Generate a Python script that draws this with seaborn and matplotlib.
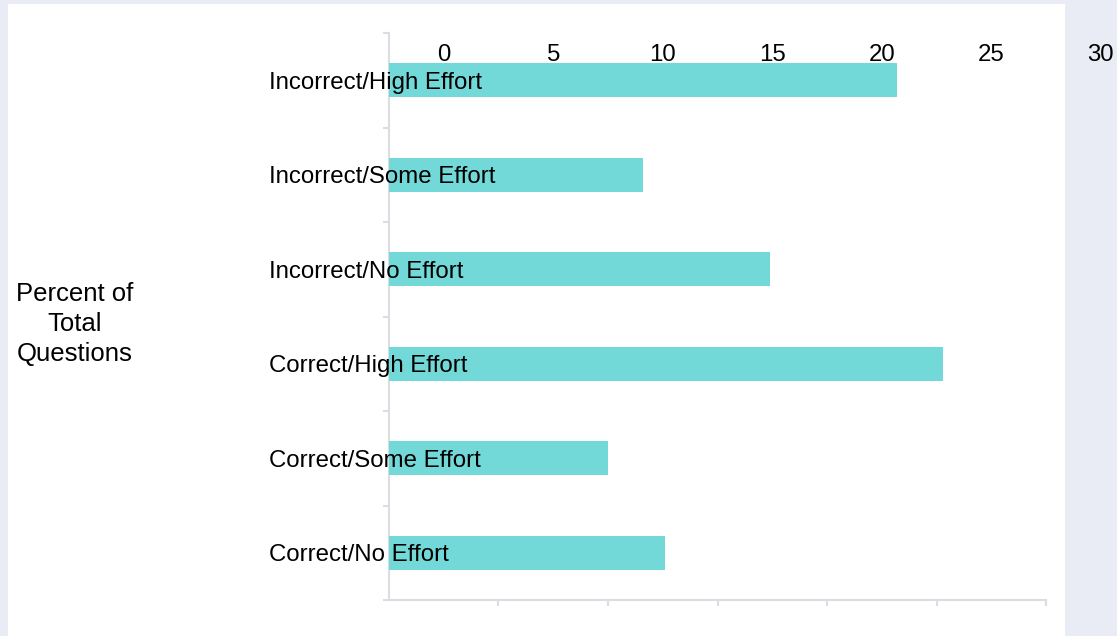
import matplotlib
matplotlib.use("Agg")
import matplotlib.pyplot as plt
import matplotlib.transforms as mtransforms
from matplotlib.patches import Rectangle
import seaborn as sns
import pandas as pd

# Share of questions by answer outcome and effort level
categories = [
    "Incorrect/High Effort",
    "Incorrect/Some Effort",
    "Incorrect/No Effort",
    "Correct/High Effort",
    "Correct/Some Effort",
    "Correct/No Effort",
]
percent = [23.2, 11.6, 17.4, 25.3, 10.0, 12.6]
x_ticks = [0, 5, 10, 15, 20, 25, 30]
axis_title = "Percent of\nTotal\nQuestions"

df = pd.DataFrame({"category": categories, "percent": percent})

sns.set_theme(style="white")
plt.rcParams["font.family"] = ["Liberation Sans", "DejaVu Sans"]

W, H, DPI = 1117, 636, 100
fig = plt.figure(figsize=(W / DPI, H / DPI), dpi=DPI, facecolor="#e9ecf4")

# white card behind the chart
fig.patches.append(Rectangle((8 / W, 0), (1065 - 8) / W, (H - 4) / H,
                             transform=fig.transFigure, facecolor="white",
                             edgecolor="none", zorder=-10))

ax = fig.add_axes([389 / W, 36 / H, (1046 - 389) / W, (600 - 33) / H])
ax.set_facecolor("none")

sns.barplot(data=df, x="percent", y="category", orient="h", color="#73d9d8",
            saturation=1, width=0.36, linewidth=0, ax=ax)

ax.set_xlim(0, 30)
ax.set_ylim(len(categories) - 0.5, -0.5)
ax.set_xlabel("")
ax.set_ylabel("")

axis_grey = "#dcdde2"
for side in ("top", "right"):
    ax.spines[side].set_visible(False)
for side in ("left", "bottom"):
    ax.spines[side].set_color(axis_grey)
    ax.spines[side].set_linewidth(1.5)
    ax.spines[side].set_zorder(0.5)

# bottom ticks without labels
ax.set_xticks(x_ticks[1:])
ax.tick_params(axis="x", bottom=True, length=4.5, width=1.5, color=axis_grey,
               labelbottom=False)

# category labels left-aligned, overlapping the bars
ax.tick_params(axis="y", left=False, length=0, pad=86.5, labelsize=17.3,
               labelcolor="black")
for lbl in ax.get_yticklabels():
    lbl.set_horizontalalignment("left")
ax.yaxis.set_zorder(5)

# boundary ticks on the category axis
ax.set_yticks([i - 0.5 for i in range(len(categories) + 1)], minor=True)
ax.tick_params(axis="y", which="minor", left=True, length=4.5, width=1.5,
               color=axis_grey)

# value labels along the top, shifted half an interval to the right
half_step = (x_ticks[1] - x_ticks[0]) / 2
trans = mtransforms.blended_transform_factory(ax.transData, ax.transAxes)
for v in x_ticks:
    ax.text(v + half_step, 1 - 22 / 567, str(v), transform=trans,
            ha="center", va="center", fontsize=17.3, color="black",
            clip_on=False, zorder=6)

fig.text(75 / W, 1 - 324 / H, axis_title, ha="center", va="center",
         multialignment="center", fontsize=18.5, linespacing=1.32,
         color="black")

fig.savefig("out.png", dpi=DPI, facecolor=fig.get_facecolor())
